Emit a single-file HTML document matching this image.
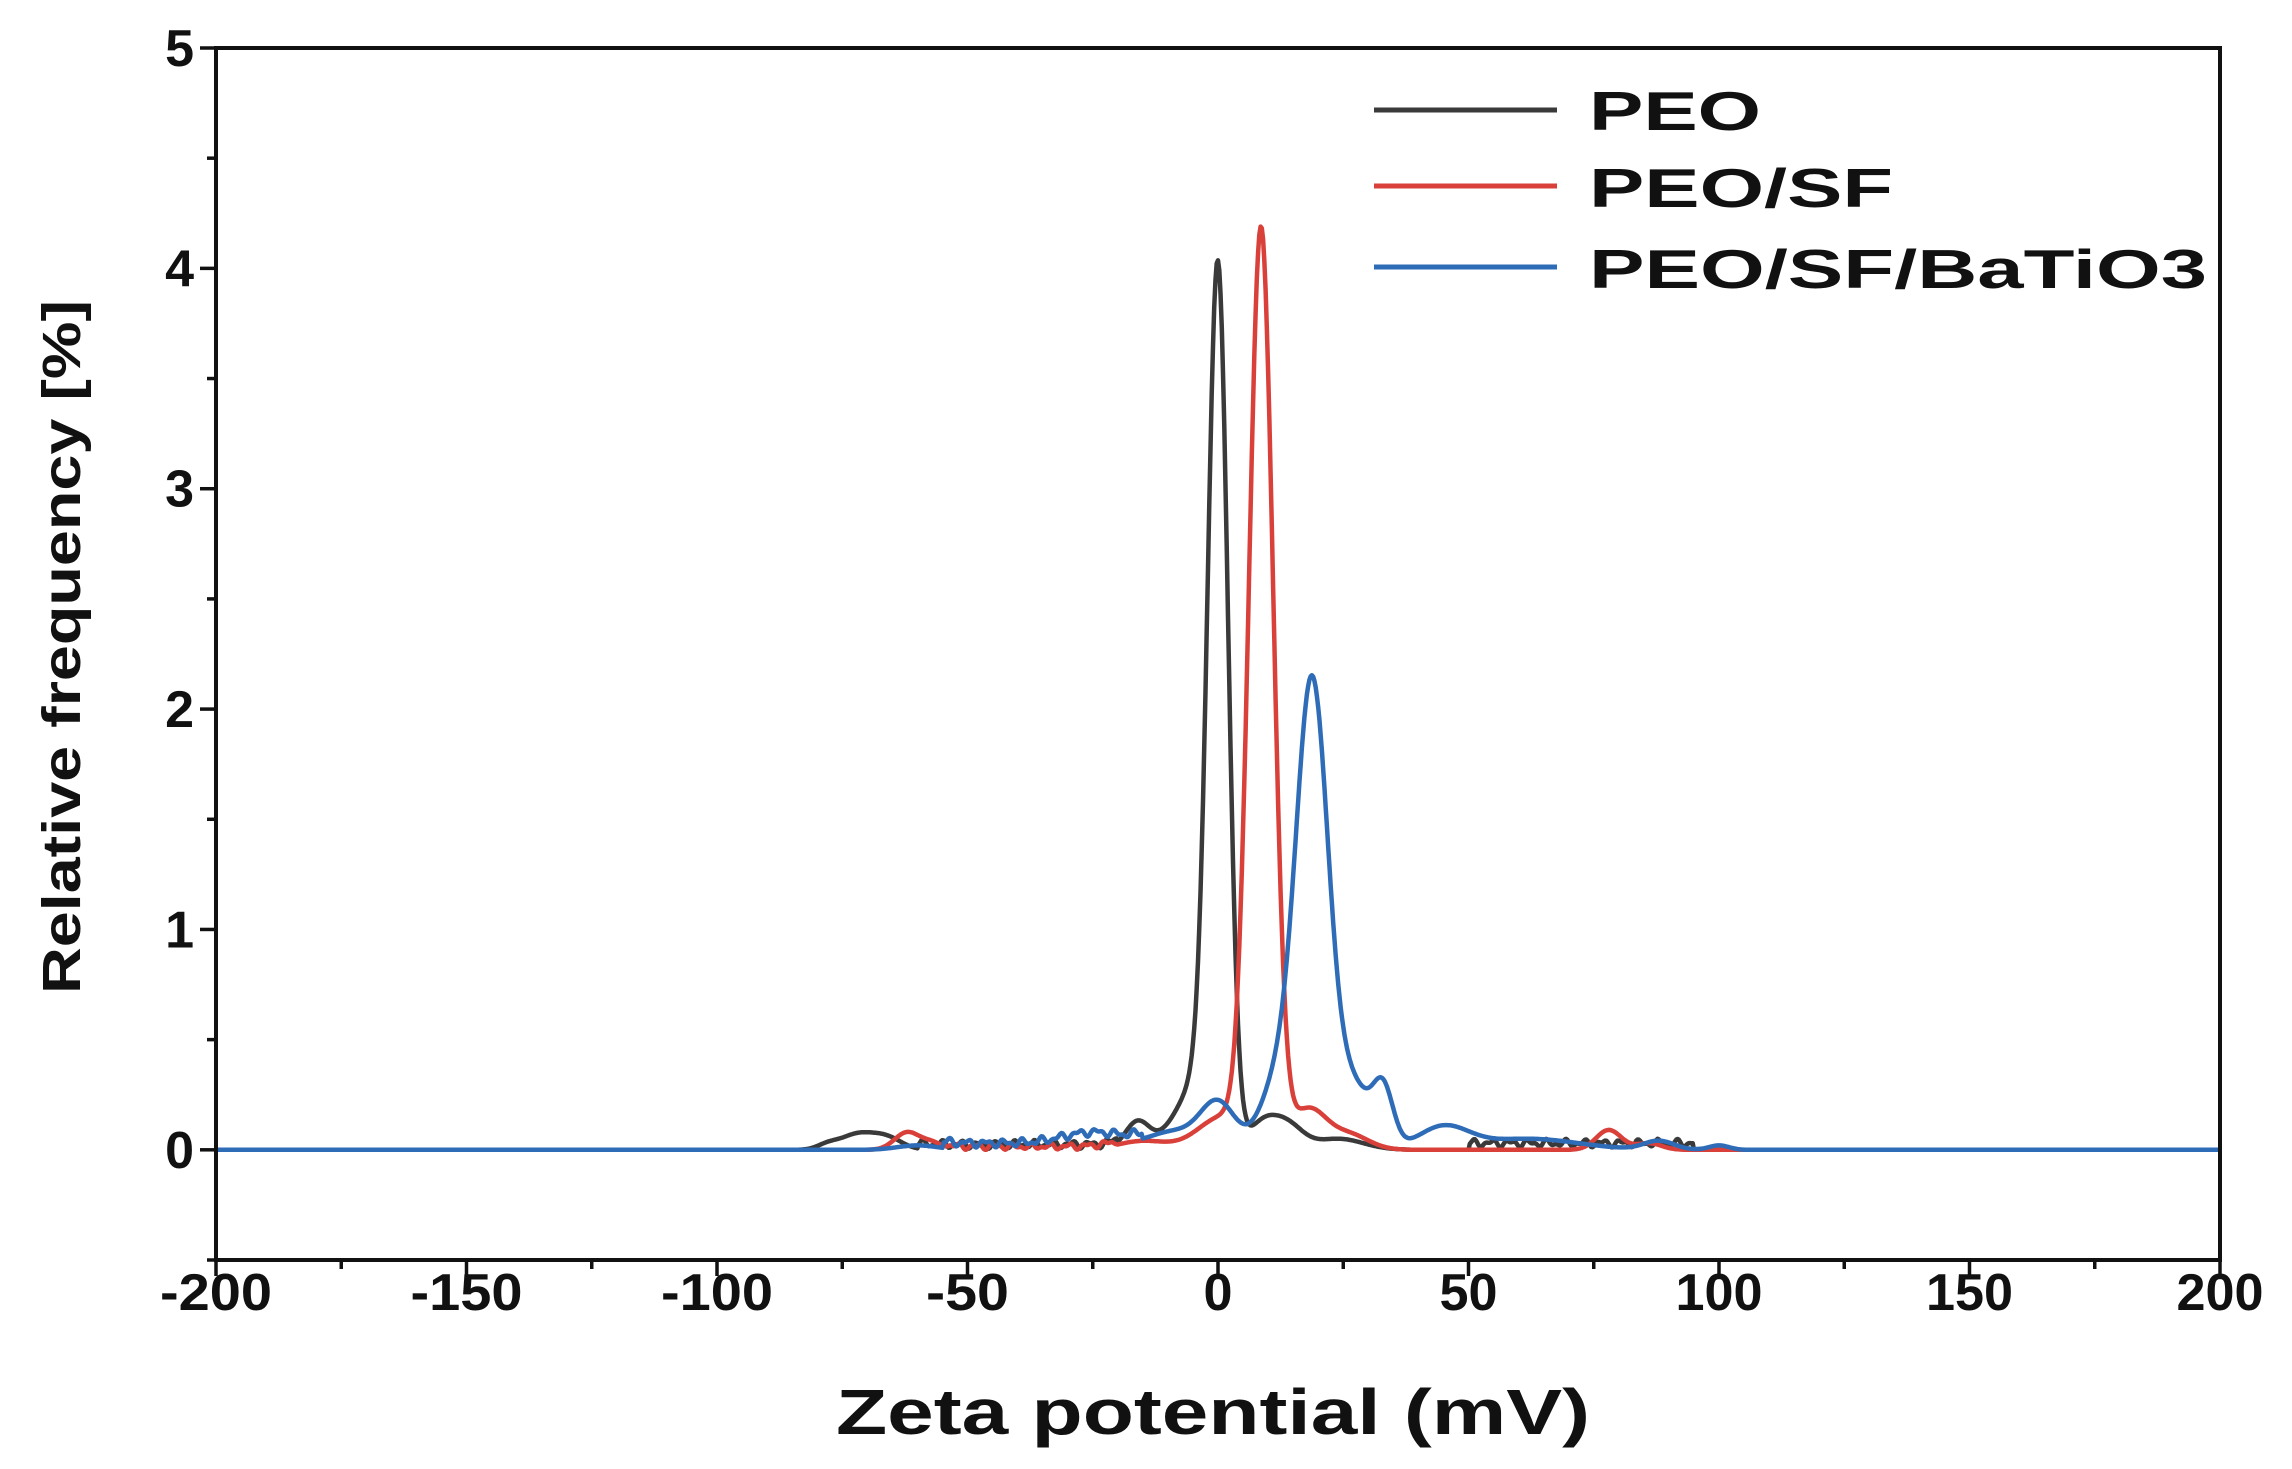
<!DOCTYPE html>
<html><head><meta charset="utf-8"><style>
html,body{margin:0;padding:0;background:#fff;}
svg{display:block;}
text{font-family:"Liberation Sans",Arial,sans-serif;font-weight:bold;fill:#111;}
</style></head><body>
<svg id="s" width="2292" height="1469" viewBox="0 0 2292 1469" xmlns="http://www.w3.org/2000/svg">
<rect width="2292" height="1469" fill="#fff"/>
<g id="curves" fill="none" stroke-width="4.5" stroke-linejoin="round"></g>
<rect x="216" y="48" width="2004" height="1212" fill="none" stroke="#111" stroke-width="4"/>
<g id="ticks" stroke="#111" stroke-width="3.5"></g>
<g id="labels" font-size="52"></g>
<text x="1213" y="1434" font-size="64" text-anchor="middle" textLength="754" lengthAdjust="spacingAndGlyphs">Zeta potential (mV)</text>
<text transform="translate(80,647) rotate(-90)" font-size="54" text-anchor="middle" textLength="694" lengthAdjust="spacingAndGlyphs">Relative frequency [%]</text>
<line x1="1374" y1="110" x2="1557" y2="110" stroke="#3a3a3a" stroke-width="5"/>
<line x1="1374" y1="186" x2="1557" y2="186" stroke="#d9403a" stroke-width="5"/>
<line x1="1374" y1="267" x2="1557" y2="267" stroke="#2f6cb8" stroke-width="5"/>
<text x="1589" y="130" font-size="55" textLength="172" lengthAdjust="spacingAndGlyphs">PEO</text>
<text x="1589" y="207" font-size="55" textLength="304" lengthAdjust="spacingAndGlyphs">PEO/SF</text>
<text x="1589" y="288" font-size="55" textLength="618" lengthAdjust="spacingAndGlyphs">PEO/SF/BaTiO3</text>
</svg>
<script>
var NS="http://www.w3.org/2000/svg";
var X0=216,X1=2220,Y0=48,Y1=1260;
function px(v){return X0+(v+200)/400*(X1-X0);}
function py(v){return Y1-(v+0.5)/5.5*(Y1-Y0);}
function G(x,m,a,s){return a*Math.exp(-0.5*(x-m)*(x-m)/(s*s));}
function mk(tag,at,par){var e=document.createElementNS(NS,tag);for(var k in at)e.setAttribute(k,at[k]);par.appendChild(e);return e;}
var tk=document.getElementById('ticks'),lb=document.getElementById('labels');
for(var v=-200;v<=200;v+=25){var maj=v%50==0;mk('line',{x1:px(v),y1:Y1,x2:px(v),y2:Y1+(maj?16:9)},tk);
 if(maj){var s=String(v);var t=mk('text',{x:px(v),y:Y1+50,'text-anchor':'middle',textLength:(s.length*29+(v<0?-4:0)),lengthAdjust:'spacingAndGlyphs'},lb);t.textContent=s;}}
for(var v=-0.5;v<=5.01;v+=0.5){var maj=Math.abs(v-Math.round(v))<0.01;mk('line',{x1:X0,y1:py(v),x2:X0-(maj?16:9),y2:py(v)},tk);
 if(maj){var t=mk('text',{x:X0-22,y:py(v)+18,'text-anchor':'end'},lb);t.textContent=Math.round(v);}}
function noise(x,seed){return 0.012*Math.sin(x*1.7+seed)+0.008*Math.sin(x*3.1+seed*2);}
var fb=function(x){var y=G(x,0,3.85,2.0)+G(x,-3,0.3,3)+G(x,-8,0.12,3)+G(x,-16,0.13,2.5)+G(x,9,0.12,3)+G(x,14,0.1,3)+G(x,24,0.05,5)
 +G(x,-72,0.07,3.5)+G(x,-66,0.05,3)+G(x,-78,0.02,2);
 if(x>-60&&x<-20)y+=0.025+noise(x,1);if(x>50&&x<95)y+=0.03+noise(x,3);return Math.max(0,y);};
var fr=function(x){var y=G(x,8.6,4.14,2.4)+G(x,1,0.15,5)+G(x,18,0.18,3.5)+G(x,26,0.07,4)+G(x,-62,0.08,2.5)+G(x,-57,0.03,2)+G(x,78,0.09,2.5)+G(x,86,0.03,2.5)+G(x,-15,0.04,5);
 if(x>-55&&x<-20)y+=0.015+noise(x,2)*0.8;return Math.max(0,y);};
var fl=function(x){var y=G(x,18.8,2.09,3.2)+G(x,12,0.3,3.5)+G(x,0,0.21,3.5)+G(x,-9,0.08,5)+G(x,33,0.25,2)+G(x,27,0.28,3.5)+G(x,45,0.1,5)+G(x,62,0.05,10)+G(x,-25,0.05,6)+G(x,88,0.04,3)+G(x,100,0.02,2)+G(x,-60,0.02,4);
 if(x>-55&&x<-15)y+=0.03+noise(x,5);return Math.max(0,y);};
var cg=document.getElementById('curves');
[[fb,'#3a3a3a'],[fr,'#d9403a'],[fl,'#2f6cb8']].forEach(function(p){
 var d='';for(var x=-200;x<=200.001;x+=0.25){var y=Math.abs(x)>105?0:p[0](x);d+=(d?'L':'M')+px(x).toFixed(1)+','+py(y).toFixed(1);}
 mk('path',{d:d,stroke:p[1]},cg);});
</script>
</body></html>
